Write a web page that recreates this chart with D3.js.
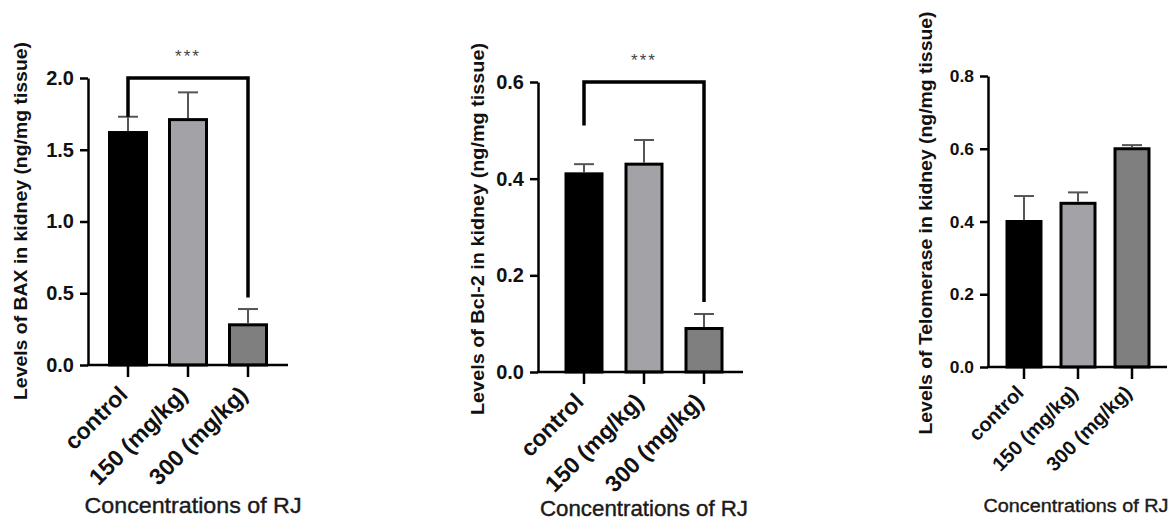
<!DOCTYPE html>
<html>
<head>
<meta charset="utf-8">
<script src="https://cdn.jsdelivr.net/npm/d3@7"></script>
<style>
body { margin: 0; background-color: white; }
text { font-family: "Liberation Sans", Arial, sans-serif; }
</style>
</head>
<body>
<svg id="chart"></svg>
<script>
var categories = ["control", "150 (mg/kg)", "300 (mg/kg)"];
var barColors = ["#000000", "#a3a3a7", "#7f7f7f"];

var baxMeans = [1.62, 1.71, 0.28];
var baxErr = [0.11, 0.19, 0.11];
var baxTicks = [0, 0.5, 1.0, 1.5, 2.0];

var bclMeans = [0.41, 0.43, 0.09];
var bclErr = [0.02, 0.05, 0.03];
var bclTicks = [0, 0.2, 0.4, 0.6];

var telMeans = [0.40, 0.45, 0.60];
var telErr = [0.07, 0.03, 0.01];
var telTicks = [0, 0.2, 0.4, 0.6, 0.8];

// significance brackets: [bar from, bar to, top value, left leg end, right leg end]
var baxBracket = [0, 2, 2.0, 1.73, 0.47];
var bclBracket = [0, 2, 0.6, 0.51, 0.145];

var width = 1173, height = 523;
var svg = d3.select("#chart").attr("width", width).attr("height", height);

var panels = [
  { means: baxMeans, err: baxErr, ticks: baxTicks, bracket: baxBracket,
    ytitle: "Levels of BAX in kidney (ng/mg tissue)",
    axisX: 88, axisEnd: 288, band: [108, 268], pad: 1 / 3, y0: 365, yTop: 78,
    ytx: 20, yty: 221, ylen: 358, xtx: 193, xty: 513, xlen: 217, fs: 1 },
  { means: bclMeans, err: bclErr, ticks: bclTicks, bracket: bclBracket,
    ytitle: "Levels of Bcl-2 in kidney (ng/mg tissue)",
    axisX: 538, axisEnd: 743, band: [564.5, 723.5], pad: 0.35, y0: 372, yTop: 82,
    ytx: 477, yty: 229, ylen: 372, xtx: 644, xty: 516, xlen: 208, fs: 1 },
  { means: telMeans, err: telErr, ticks: telTicks, bracket: null,
    ytitle: "Levels of Telomerase in kidney (ng/mg tissue)",
    axisX: 988, axisEnd: 1167, band: [1005.5, 1150.5], pad: 0.315, y0: 367, yTop: 76,
    ytx: 925, yty: 223, ylen: 423, xtx: 1076, xty: 512, xlen: 185, fs: 0.87 }
];

panels.forEach(function(p) {
  var g = svg.append("g");
  var ymax = p.ticks[p.ticks.length - 1];
  var y = d3.scaleLinear().domain([0, ymax]).range([p.y0, p.yTop]);
  var x = d3.scaleBand().domain(categories).range(p.band).paddingInner(p.pad).paddingOuter(0);

  // bars
  g.selectAll("rect.bar").data(p.means).enter().append("rect")
    .attr("x", function(d, i) { return x(categories[i]) + 1.5; })
    .attr("width", x.bandwidth() - 3)
    .attr("y", function(d) { return y(d); })
    .attr("height", function(d) { return p.y0 - y(d); })
    .attr("fill", function(d, i) { return barColors[i]; })
    .attr("stroke", "#000").attr("stroke-width", 3);

  // error bars (upper only)
  p.means.forEach(function(m, i) {
    var cx = x(categories[i]) + x.bandwidth() / 2;
    g.append("line").attr("x1", cx).attr("x2", cx)
      .attr("y1", y(m) - 1.5).attr("y2", y(m + p.err[i]))
      .attr("stroke", "#555").attr("stroke-width", 2);
    g.append("line").attr("x1", cx - 10).attr("x2", cx + 10)
      .attr("y1", y(m + p.err[i])).attr("y2", y(m + p.err[i]))
      .attr("stroke", "#555").attr("stroke-width", 2);
  });

  // y axis
  var yAxis = d3.axisLeft(y).tickValues(p.ticks).tickSize(8).tickSizeOuter(0)
    .tickPadding(6).tickFormat(d3.format(".1f"));
  var ya = g.append("g").attr("transform", "translate(" + p.axisX + ",0)").call(yAxis);
  ya.select(".domain").attr("stroke", "#000").attr("stroke-width", 2.5);
  ya.selectAll(".tick line").attr("stroke", "#000").attr("stroke-width", 2.5);
  ya.selectAll(".tick text").attr("font-size", 20 * p.fs).attr("font-weight", "bold")
    .attr("fill", "#111").style("font-family", "'Liberation Sans', Arial, sans-serif");

  // x axis
  var xAxis = d3.axisBottom(x).tickSize(12).tickSizeOuter(0).tickFormat("");
  var xa = g.append("g").attr("transform", "translate(0," + p.y0 + ")").call(xAxis);
  xa.select(".domain").attr("d", "M" + (p.axisX - 1) + ",0H" + p.axisEnd)
    .attr("stroke", "#000").attr("stroke-width", 2.5);
  xa.selectAll(".tick line").attr("stroke", "#000").attr("stroke-width", 2.5);

  // rotated category labels
  g.selectAll("text.cat").data(categories).enter().append("text")
    .attr("text-anchor", "end")
    .attr("font-size", 23 * p.fs).attr("font-weight", "bold").attr("fill", "#111")
    .attr("transform", function(d) {
      return "translate(" + (x(d) + x.bandwidth() / 2 + 1) + "," + (p.y0 + 31 * p.fs) + ") rotate(-45)";
    })
    .text(function(d) { return d; });

  // titles
  g.append("text").attr("text-anchor", "middle")
    .attr("transform", "translate(" + p.ytx + "," + p.yty + ") rotate(-90)")
    .attr("dy", "0.35em")
    .attr("font-size", 19).attr("font-weight", "bold").attr("fill", "#111")
    .attr("textLength", p.ylen).attr("lengthAdjust", "spacingAndGlyphs")
    .text(p.ytitle);
  g.append("text").attr("text-anchor", "middle")
    .attr("x", p.xtx).attr("y", p.xty)
    .attr("font-size", 22 * p.fs).attr("fill", "#1a1a1a")
    .attr("stroke", "#1a1a1a").attr("stroke-width", 0.4)
    .attr("textLength", p.xlen).attr("lengthAdjust", "spacingAndGlyphs")
    .text("Concentrations of RJ");

  // significance bracket
  if (p.bracket) {
    var b = p.bracket;
    var xl = x(categories[b[0]]) + x.bandwidth() / 2;
    var xr = x(categories[b[1]]) + x.bandwidth() / 2;
    g.append("path")
      .attr("d", "M" + xl + "," + y(b[3]) + "V" + y(b[2]) + "H" + xr + "V" + y(b[4]))
      .attr("fill", "none").attr("stroke", "#000").attr("stroke-width", 3.5);
    g.append("text").attr("text-anchor", "middle")
      .attr("x", (xl + xr) / 2).attr("y", y(b[2]) - 16)
      .attr("font-size", 17).attr("fill", "#444").attr("letter-spacing", 2)
      .text("***");
  }
});
</script>
</body>
</html>
